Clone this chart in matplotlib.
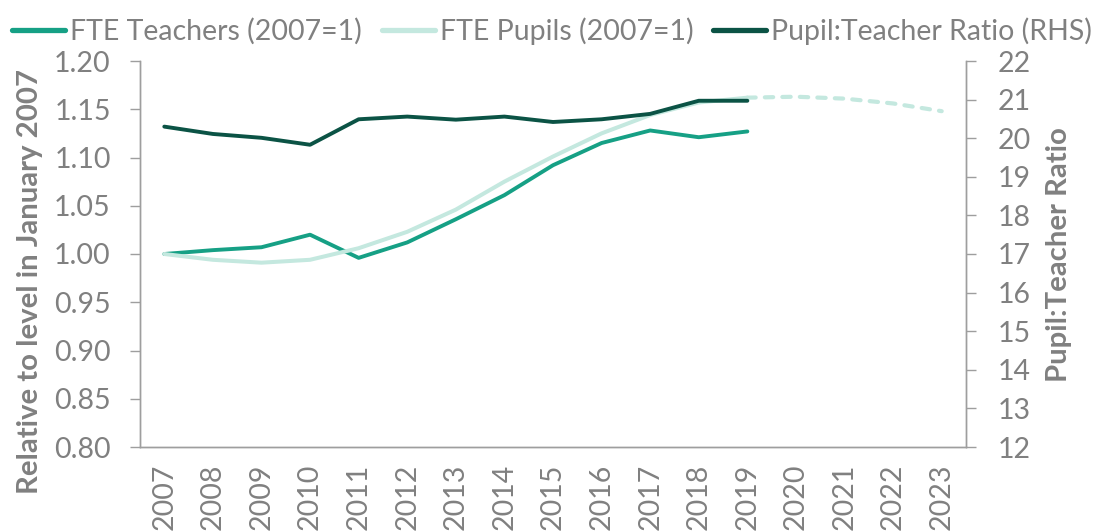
import matplotlib
matplotlib.use("Agg")
import matplotlib.pyplot as plt
import numpy as np

years = [str(y) for y in range(2007, 2024)]
teachers = [1.000, 1.004, 1.007, 1.020, 0.996, 1.012, 1.036, 1.061, 1.092, 1.115, 1.128, 1.121, 1.127]
pupils = [1.000, 0.994, 0.991, 0.994, 1.006, 1.023, 1.046, 1.075, 1.101, 1.125, 1.144, 1.157, 1.162]
pupils_proj = [1.162, 1.163, 1.161, 1.156, 1.148]  # 2019-2023
ratio = [20.30, 20.11, 20.01, 19.83, 20.49, 20.56, 20.48, 20.56, 20.42, 20.49, 20.63, 20.97, 20.97]

c_teach = "#16A085"
c_pupil = "#C4E8DF"
c_ratio = "#0B5345"
gray = "#808080"
spine = "#9E9E9E"
FONT = "Lato"
FS = 20.5
LFS = 21.2

plt.rcParams['font.family'] = [FONT, 'DejaVu Sans']

W, H = 1097, 532
fig = plt.figure(figsize=(W / 100, H / 100), dpi=100)
L, R, B, T = 140, 966, 447, 61
ax = fig.add_axes([L / W, 1 - B / H, (R - L) / W, (B - T) / H])
ax2 = ax.twinx()

x = np.arange(len(years))
n = len(teachers)
ax.plot(x[:n], teachers, color=c_teach, lw=2.8, solid_capstyle='round', label="FTE Teachers (2007=1)", zorder=3)
ax.plot(x[:n], pupils, color=c_pupil, lw=2.9, solid_capstyle='round', label="FTE Pupils (2007=1)", zorder=4)
ax.plot(x[n - 1:], pupils_proj, color=c_pupil, lw=3.0, ls=(0, (2.0, 2.2)), dash_capstyle='round', zorder=4)
ax2.plot(x[:n], ratio, color=c_ratio, lw=2.8, solid_capstyle='round', label="Pupil:Teacher Ratio (RHS)")

ax.set_xlim(-0.5, len(years) - 0.5)
ax.set_ylim(0.80, 1.20)
ax.set_yticks(np.arange(0.80, 1.2001, 0.05))
ax.set_yticklabels([f"{v:.2f}" for v in np.arange(0.80, 1.2001, 0.05)])
ax2.set_ylim(12, 22)
ax2.set_yticks(range(12, 23))
ax.set_xticks(x)
ax.set_xticklabels(years, rotation=90)

for a in (ax, ax2):
    for s in a.spines.values():
        s.set_color(spine)
        s.set_linewidth(1.0)
    a.spines['top'].set_visible(False)
ax.tick_params(axis='y', colors=spine, labelcolor=gray, labelsize=FS, length=7, width=1.0, pad=14)
ax2.tick_params(axis='y', colors=spine, labelcolor=gray, labelsize=FS, length=7, width=1.0, pad=16)
ax.tick_params(axis='x', length=0, labelcolor=gray, labelsize=FS, pad=12)
ax.patch.set_visible(False)

fig.text(30 / W, 1 - 282 / H, "Relative to level in January 2007", rotation=90, ha='center', va='center',
         color=gray, fontsize=LFS, fontweight='bold')
fig.text(1059 / W, 1 - 255 / H, "Pupil:Teacher Ratio", rotation=90, ha='center', va='center',
         color=gray, fontsize=LFS, fontweight='bold')

h1, l1 = ax.get_legend_handles_labels()
h2, l2 = ax2.get_legend_handles_labels()
leg = fig.legend(h1 + h2, l1 + l2, loc='center left', bbox_to_anchor=(12 / W, 1 - 31 / H), ncol=3, frameon=False,
                 fontsize=FS, labelcolor=gray, handlelength=1.86, handletextpad=0.18, columnspacing=0.7,
                 borderaxespad=0.0, borderpad=0.0)
for lh in leg.get_lines():
    lh.set_linewidth(3.8)

fig.savefig("out.png", dpi=100)
